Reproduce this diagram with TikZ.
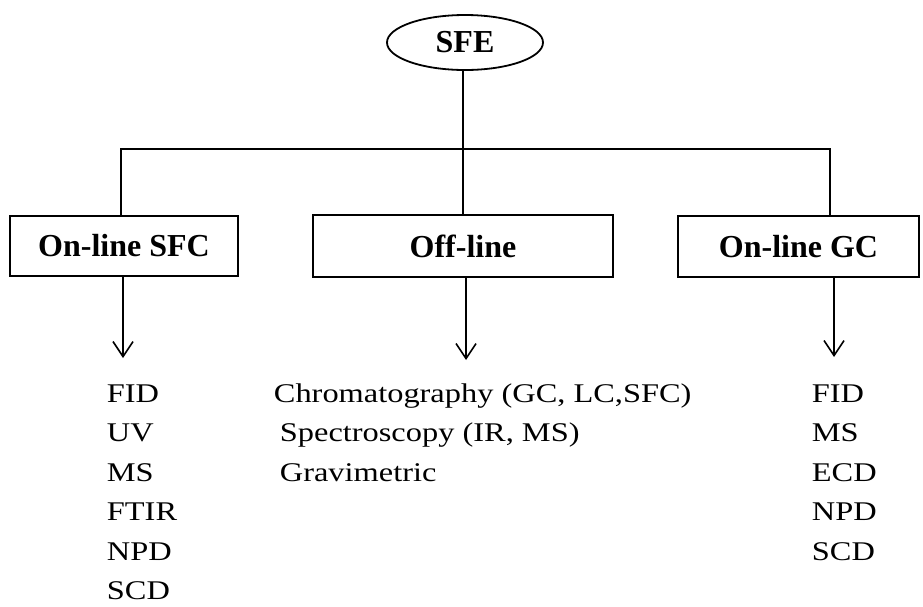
\documentclass[tikz,border=0pt]{standalone}
\usepackage{fontspec}
\setmainfont{Liberation Serif}[Ligatures=NoCommon]
% a wider cut of the serif for the plain lists
\newfontfamily\listfont{Liberation Serif}[FakeStretch=1.2,Ligatures=NoCommon]
\usetikzlibrary{shapes.geometric,arrows.meta}

\begin{document}
\begin{tikzpicture}[x=1pt,y=-1pt,
  line width=1.8pt,
  rootnode/.style={draw,ellipse,inner sep=0pt,minimum width=156pt,minimum height=55pt,
    font=\fontsize{32}{38}\selectfont\bfseries},
  branchbox/.style={draw,rectangle,inner sep=0pt,
    font=\fontsize{32}{38}\selectfont\bfseries},
  item/.style={anchor=base west,inner sep=0pt,font=\listfont\fontsize{27}{39}\selectfont},
  downarrow/.style={-{Straight Barb[length=15pt,width=20pt,line width=1.6pt]}}
]
\useasboundingbox (0,0) rectangle (923,606);

% root
\node[rootnode] (sfe) at (465,42.5) {SFE};

% the three branches
\node[branchbox,minimum width=228pt,minimum height=60pt] (sfc) at (124,246) {On-line SFC};
\node[branchbox,minimum width=300pt,minimum height=62pt] (off) at (463,246) {Off-line};
\node[branchbox,minimum width=241pt,minimum height=61pt] (gc)  at (798.5,246.5) {On-line GC};

% bus joining the root to the branches
\coordinate (bus) at (463,149);
\coordinate (busL) at (121,149);
\coordinate (busR) at (830,149);
\draw (sfe.south -| bus) -- (bus);
\draw (sfc.north -| busL) -- (busL) -- (busR) -- (gc.north -| busR);
\draw (bus) -- (off.north);

% arrows to the detector lists
\coordinate (tipL) at (123,358);
\coordinate (tipM) at (466,360);
\coordinate (tipR) at (834,357);
\draw[downarrow] (sfc.south -| tipL) -- (tipL);
\draw[downarrow] (off.south -| tipM) -- (tipM);
\draw[downarrow] (gc.south -| tipR) -- (tipR);

% on-line SFC detectors
\node[item] (l1) at (106,402) {FID};
\node[item] (l2) at (106,441.5) {UV};
\node[item] (l3) at (106,481) {MS};
\node[item] (l4) at (106,520.5) {FTIR};
\node[item] (l5) at (106,560) {NPD};
\node[item] (l6) at (106,599.5) {SCD};

% off-line techniques
\node[item] (m1) at (273,402) {Chromatography (GC, LC,SFC)};
\node[item] (m2) at (279,441.5) {Spectroscopy (IR, MS)};
\node[item] (m3) at (279,481) {Gravimetric};

% on-line GC detectors
\node[item] (r1) at (811,402) {FID};
\node[item] (r2) at (811,441.5) {MS};
\node[item] (r3) at (811,481) {ECD};
\node[item] (r4) at (811,520.5) {NPD};
\node[item] (r5) at (811,560) {SCD};
\end{tikzpicture}
\end{document}
